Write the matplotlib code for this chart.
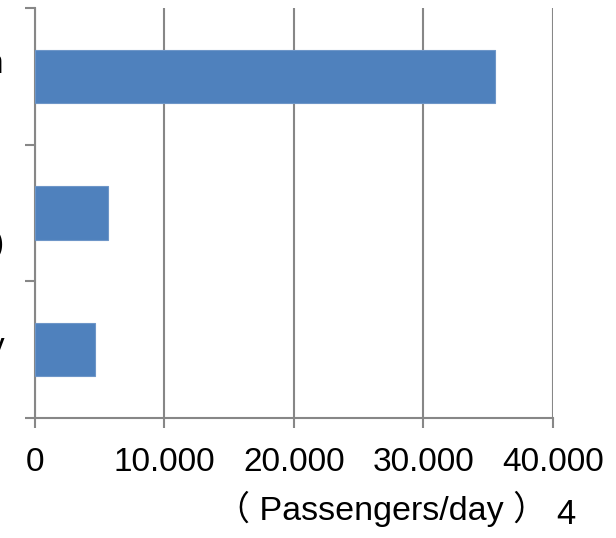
import matplotlib
matplotlib.use("Agg")
import matplotlib.pyplot as plt
import matplotlib.transforms as mtransforms

plt.rcParams['font.family'] = ['Liberation Sans', 'Noto Sans CJK JP']

# categories (labels are mostly cut off at the left edge in the original)
categories = ["Shinkansen\n(Tokyo)", "JR\n(Conventional Lines)", "Monorail / Highway"]
passengers = [35500, 5650, 4650]
xticks = [0, 10000, 20000, 30000, 40000]
xtick_labels = ["0", "10.000", "20.000", "30.000", "40.000"]

grey = "#878787"

fig = plt.figure(figsize=(6.16, 5.38), dpi=100)
ax = fig.add_axes([0.0568, 0.223, 0.8409, 0.762])

pos = list(range(len(categories)))
ax.barh(pos, passengers, height=0.39, color="#4F81BD", edgecolor="#6E96C8",
        linewidth=0.8, zorder=3)

ax.set_xlim(0, 40000)
ax.set_ylim(len(categories) - 0.5, -0.5)
ax.set_xticks(xticks)
ax.set_xticklabels(xtick_labels, fontsize=24)
ax.grid(axis="x", color=grey, linewidth=1.5, zorder=0)

# category boundaries get the tick marks, labels sit in between
ax.set_yticks([p - 0.5 for p in pos] + [pos[-1] + 0.5])
ax.set_yticklabels([])
ax.set_yticks(pos, minor=True)
ax.set_yticklabels(categories, minor=True, fontsize=24, multialignment="center",
                   linespacing=1.5)
ax.tick_params(axis="y", which="minor", length=0, pad=22)
ax.tick_params(axis="y", which="major", length=7, width=1.5, color=grey, direction="out")
ax.tick_params(axis="x", length=7, width=1.5, color=grey, direction="out", pad=14)

# last category label sits a little higher in the original
lab = ax.get_yticklabels(minor=True)[-1]
lab.set_transform(lab.get_transform() + mtransforms.ScaledTranslation(0, 6 / 100, fig.dpi_scale_trans))

for s in ["top", "right"]:
    ax.spines[s].set_visible(False)
for s in ["left", "bottom"]:
    ax.spines[s].set_color(grey)
    ax.spines[s].set_linewidth(1.5)

fig.text(0.62, 0.054, "（ Passengers/day ）", fontsize=24.5, ha="center", va="center")
fig.text(0.919, 0.043, "4", fontsize=25, ha="center", va="center")

fig.savefig("out.png", dpi=100)
